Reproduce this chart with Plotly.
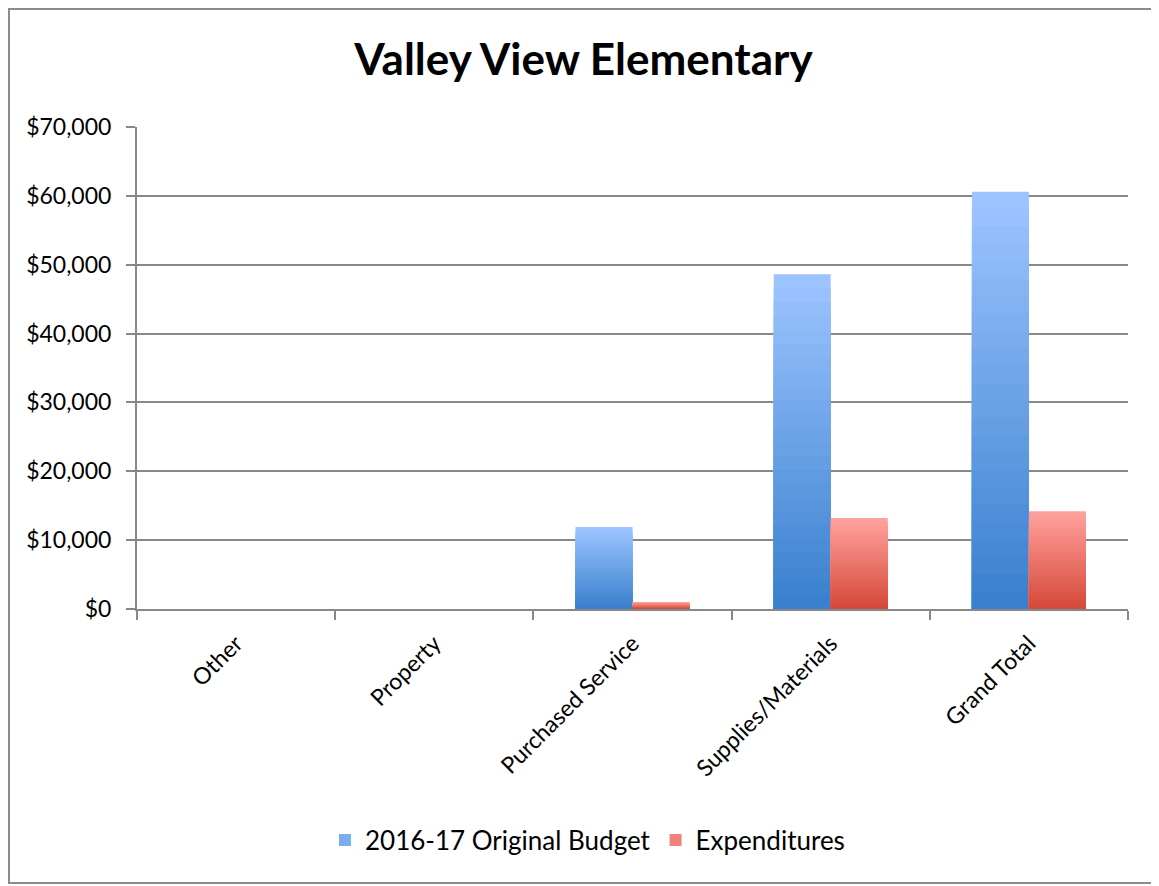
import plotly.graph_objects as go

categories = ["Other", "Property", "Purchased Service", "Supplies/Materials", "Grand Total"]
budget = [0, 0, 11900, 48600, 60600]
expenditures = [0, 0, 1000, 13200, 14200]
series_names = ["2016-17 Original Budget", "Expenditures"]
tick_vals = [0, 10000, 20000, 30000, 40000, 50000, 60000, 70000]

FONT = "Lato, 'Open Sans', sans-serif"
STEPS = 24

# figure is placed at an 8px offset by the page body margin
W, H = 1151, 878
ML, MT, MR, MB = 129, 119, 31, 277
PW, PH = W - ML - MR, H - MT - MB


def lerp(c1, c2, t):
    return "rgb(%d,%d,%d)" % tuple(round(a + (b - a) * t) for a, b in zip(c1, c2))


fig = go.Figure()
gradients = [((156, 196, 255), (58, 128, 206)), ((255, 160, 156), (214, 74, 58))]
for si, (name, vals) in enumerate(zip(series_names, [budget, expenditures])):
    top, bottom = gradients[si]
    for k in range(STEPS):
        frac = 1 - k / STEPS
        fig.add_trace(go.Bar(
            x=categories,
            y=[v * frac for v in vals],
            name=name,
            offsetgroup=str(si),
            legendgroup=name,
            showlegend=(k == STEPS // 3),
            marker=dict(color=lerp(top, bottom, k / (STEPS - 1)), line=dict(width=0)),
            hoverinfo="skip" if k else None,
        ))

fig.update_layout(
    width=W, height=H,
    paper_bgcolor="white", plot_bgcolor="white",
    margin=dict(l=ML, r=MR, t=MT, b=MB),
    barmode="group",
    bargap=0.425, bargroupgap=0,
    font=dict(family=FONT, size=23, color="black"),
    title=dict(text="<b>Valley View Elementary</b>", x=0.5, xanchor="center",
               y=1 - 52 / H, yanchor="middle", font=dict(family=FONT, size=44, color="black")),
    xaxis=dict(
        type="category", tickangle=-45, tickson="boundaries",
        ticks="outside", ticklen=9, tickcolor="#888888", tickwidth=2,
        showline=True, linecolor="#888888", linewidth=2,
        showgrid=False, tickfont=dict(size=23, family=FONT),
        ticklabelstandoff=10,
        range=[-0.5, 4.5],
    ),
    yaxis=dict(
        range=[0, 70000], tickvals=tick_vals, tickformat="$,",
        ticks="outside", ticklen=9, tickcolor="#888888", tickwidth=2,
        showline=True, linecolor="#888888", linewidth=2,
        showgrid=True, gridcolor="#888888", gridwidth=2,
        zeroline=False, tickfont=dict(size=23, family=FONT),
        ticklabelstandoff=10,
    ),
    legend=dict(orientation="h", x=0.5 - 45 / PW, xanchor="center",
                y=-(840 - MT - 8 - PH) / PH, yanchor="middle",
                font=dict(size=26, family=FONT), itemsizing="constant",
                itemwidth=30, traceorder="normal"),
    shapes=[dict(type="rect", xref="paper", yref="paper",
                 x0=-(ML - 1) / PW, x1=1 + (MR - 3) / PW,
                 y0=-(MB - 3) / PH, y1=1 + (MT - 1) / PH,
                 line=dict(color="#8c8c8c", width=2), layer="below")],
)

fig.write_html("out.html")
